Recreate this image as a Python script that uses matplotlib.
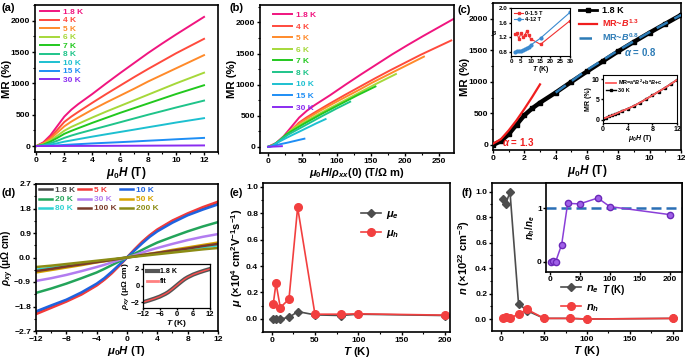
import numpy as np
import matplotlib
matplotlib.use('Agg')
import matplotlib.pyplot as plt
from matplotlib.ticker import AutoMinorLocator, MultipleLocator
from matplotlib.lines import Line2D

plt.rcParams['font.family'] = ['Liberation Sans', 'DejaVu Sans']
plt.rcParams['font.weight'] = 'bold'
plt.rcParams['axes.labelweight'] = 'bold'
plt.rcParams['mathtext.fontset'] = 'custom'
plt.rcParams['mathtext.rm'] = 'Liberation Sans:bold'
plt.rcParams['mathtext.it'] = 'Liberation Sans:italic:bold'
plt.rcParams['mathtext.bf'] = 'Liberation Sans:bold'
plt.rcParams['axes.linewidth'] = 1.2

# ---- (a)/(b) MR vs field ----
temps_a = ['1.8 K', '4 K', '5 K', '6 K', '7 K', '8 K', '10 K', '15 K', '30 K']
colors_a = ['#f0157f', '#ff4a3d', '#ff8a2a', '#a6d83a', '#22c81e', '#1fc48a',
            '#1dc0d0', '#1e8ef5', '#8a2cf0']
field_a = [0, 0.5, 1, 1.5, 2, 2.5, 3, 4, 5, 6, 7, 8, 9, 10, 11, 12]
mr_18K = [0, 60, 170, 320, 470, 580, 670, 830, 1000, 1165, 1325, 1485, 1635, 1780, 1920, 2060]
mr_4K = [0, 50, 140, 260, 385, 470, 545, 690, 830, 965, 1100, 1230, 1355, 1480, 1595, 1710]
mr_5K = [0, 40, 115, 215, 315, 390, 455, 580, 695, 805, 915, 1030, 1135, 1240, 1345, 1450]
mr_6K = [0, 30, 90, 165, 245, 305, 355, 455, 550, 640, 730, 820, 910, 1000, 1085, 1170]
mr_7K = [0, 22, 70, 130, 195, 242, 285, 370, 450, 530, 605, 680, 755, 830, 900, 970]
mr_8K = [0, 14, 45, 85, 130, 167, 200, 260, 320, 380, 440, 500, 557, 615, 670, 725]
mr_10K = [0, 7, 23, 45, 70, 90, 110, 150, 188, 225, 262, 300, 337, 375, 410, 445]
mr_15K = [0, 2, 6, 11, 18, 24, 30, 42, 52, 62, 73, 85, 96, 108, 119, 130]
mr_30K = [0.3, 0.5, 0.8, 1.1, 1.4, 1.75, 2.1, 2.7, 3.4, 4.2, 5.1, 6.0, 6.9, 7.8, 8.8, 9.8]
mr_all = [mr_18K, mr_4K, mr_5K, mr_6K, mr_7K, mr_8K, mr_10K, mr_15K, mr_30K]
# mu0H/rho_xx(0) reached at 12 T for each temperature
kohler_max = [272, 268, 228, 187, 157, 120, 84, 53, 20]

# ---- (c) fits ----
fit13_B = [0, 0.5, 1, 1.5, 2, 2.5, 3]
fit13_mr = [20, 90, 230, 390, 570, 760, 960]
fit08_B = [4, 6, 8, 10, 12]
fit08_mr = [830, 1190, 1500, 1790, 2060]
alpha_T = [1.8, 3, 4, 5, 6, 7, 8, 9, 10, 15, 30]
alpha_low = [1.28, 1.30, 1.15, 1.30, 1.20, 1.25, 1.37, 1.25, 1.15, 1.00, 1.65]
alpha_high = [0.80, 0.81, 0.82, 0.83, 0.85, 0.87, 0.90, 0.93, 0.98, 1.17, 1.88]

# ---- (d) Hall resistivity ----
temps_d = ['1.8 K', '5 K', '10 K', '20 K', '30 K', '50 K', '80 K', '100 K', '200 K']
colors_d = ['#454545', '#f23a3a', '#1f63e0', '#23a45a', '#b27cf0', '#d6a300',
            '#2fd3d3', '#7a3a2a', '#8c8c14']
field_d = [-12, -10, -8, -6, -4, -3, -2, -1, 0, 1, 2, 3, 4, 6, 8, 10, 12]
rxy_18K = [-2.00, -1.80, -1.58, -1.33, -1.00, -0.80, -0.55, -0.28, 0, 0.28, 0.55, 0.80, 1.00, 1.33, 1.58, 1.80, 2.00]
rxy_5K = [-2.08, -1.85, -1.62, -1.36, -1.03, -0.82, -0.58, -0.30, 0, 0.30, 0.58, 0.82, 1.03, 1.36, 1.62, 1.85, 2.05]
rxy_10K = [-1.98, -1.76, -1.55, -1.28, -0.96, -0.76, -0.52, -0.26, 0, 0.26, 0.52, 0.76, 0.96, 1.28, 1.55, 1.76, 1.95]
rxy_20K = [-1.30, -1.14, -0.96, -0.76, -0.55, -0.42, -0.28, -0.14, 0, 0.14, 0.28, 0.42, 0.55, 0.76, 0.96, 1.14, 1.30]
rxy_30K = [-0.86, -0.76, -0.64, -0.50, -0.35, -0.27, -0.18, -0.09, 0, 0.09, 0.18, 0.27, 0.35, 0.50, 0.64, 0.76, 0.86]
rxy_50K = [-0.55, -0.46, -0.37, -0.28, -0.18, -0.14, -0.09, -0.05, 0, 0.05, 0.09, 0.14, 0.18, 0.28, 0.37, 0.46, 0.55]
rxy_80K = [-0.45, -0.38, -0.30, -0.23, -0.15, -0.11, -0.08, -0.04, 0, 0.04, 0.08, 0.11, 0.15, 0.23, 0.30, 0.38, 0.45]
rxy_100K = [-0.50, -0.42, -0.33, -0.25, -0.17, -0.13, -0.09, -0.04, 0, 0.04, 0.09, 0.13, 0.17, 0.25, 0.33, 0.42, 0.50]
rxy_200K = [-0.35, -0.30, -0.24, -0.18, -0.12, -0.09, -0.06, -0.03, 0, 0.03, 0.06, 0.09, 0.12, 0.18, 0.24, 0.30, 0.35]
rxy_all = [rxy_18K, rxy_5K, rxy_10K, rxy_20K, rxy_30K, rxy_50K, rxy_80K, rxy_100K, rxy_200K]

# ---- (e)/(f) two-band fit results ----
T_fit = [1.8, 5, 10, 20, 30, 50, 80, 100, 200]
mu_e = [0.0, 0.0, 0.0, 0.01, 0.055, 0.03, 0.025, 0.035, 0.025]
mu_h = [0.11, 0.27, 0.085, 0.15, 0.845, 0.035, 0.035, 0.038, 0.028]
n_e = [0.94, 0.90, 1.00, 0.12, 0.065, 0.005, 0.005, 0.0, 0.005]
n_h = [0.005, 0.015, 0.005, 0.04, 0.075, 0.005, 0.005, 0.0, 0.005]
ratio = [0.0, 0.01, 0.0, 0.32, 1.09, 1.08, 1.19, 1.03, 0.88]


def fpos(l, t, r, b):
    W, H = 685.0, 359.0
    return [l / W, 1 - b / H, (r - l) / W, (b - t) / H]


def style(ax, size=6.1, minor=True, length=2.5):
    ax.tick_params(direction='out', length=length, width=1, labelsize=size, pad=1)
    ax.tick_params(which='minor', direction='out', length=length * 0.6, width=0.8)
    if minor:
        ax.xaxis.set_minor_locator(AutoMinorLocator(2))
        ax.yaxis.set_minor_locator(AutoMinorLocator(2))


def labels(ax, xl, yl, xy, yx, xs=8.5, ys=8.5):
    # xy: top of the x label, yx: right edge of the y label (axes coords)
    ax.set_xlabel(xl, fontsize=xs)
    ax.set_ylabel(yl, fontsize=ys)
    ax.xaxis.set_label_coords(0.5, xy)
    ax.yaxis.set_label_coords(yx, 0.5)


fig = plt.figure(figsize=(6.85, 3.59), dpi=100)

# (a)
ax = fig.add_axes(fpos(35, 5, 218, 152))
for lab, c, y in zip(temps_a, colors_a, mr_all):
    ax.plot(field_a, y, color=c, lw=1.4, label=lab)
ax.set_xlim(-0.1, 13)
ax.set_ylim(-95, 2250)
ax.xaxis.set_major_locator(MultipleLocator(2))
ax.yaxis.set_major_locator(MultipleLocator(500))
style(ax)
labels(ax, r'$\mu_0H$ (T)', 'MR (%)', -0.09, -0.126, ys=8.2)
ax.legend(loc='upper left', bbox_to_anchor=(0.02, 0.99), frameon=False, fontsize=6,
          labelcolor='linecolor', handlelength=2.3, handletextpad=0.4,
          labelspacing=0.08, borderaxespad=0, borderpad=0.2)

# (b)
ax = fig.add_axes(fpos(260, 5, 454, 153))
for lab, c, y, xm in zip(temps_a, colors_a, mr_all, kohler_max):
    x = np.array(field_a) * xm / 12.0
    ax.plot(x, y, color=c, lw=1.4, label=lab)
ax.set_xlim(-12, 272)
ax.set_ylim(-100, 2280)
ax.xaxis.set_major_locator(MultipleLocator(50))
ax.yaxis.set_major_locator(MultipleLocator(500))
style(ax)
labels(ax, r'$\mu_0H/\rho_{xx}$(0) (T/$\Omega$ m)', 'MR (%)', -0.088, -0.118, xs=8, ys=8.2)
ax.legend(loc='upper left', bbox_to_anchor=(0.06, 0.97), frameon=False, fontsize=6,
          labelcolor='linecolor', handlelength=2.3, handletextpad=0.4,
          labelspacing=0.45, borderaxespad=0, borderpad=0.2)

# (c)
ax = fig.add_axes(fpos(493, 3, 681, 150))
ax.plot(field_a, mr_18K, color='black', lw=3.2, marker='s', ms=3.5, zorder=2)
ax.plot(fit13_B, fit13_mr, color='#f01e1e', lw=1.6, zorder=3)
ax.plot(fit08_B, fit08_mr, color='#2c7bb6', lw=1.8, dashes=(5, 3), zorder=3)
ax.set_xlim(0, 12)
ax.set_ylim(-80, 2250)
ax.xaxis.set_major_locator(MultipleLocator(2))
ax.yaxis.set_major_locator(MultipleLocator(500))
style(ax)
labels(ax, r'$\mu_0H$ (T)', 'MR (%)', -0.09, -0.125, ys=8.2)
ax.text(9.4, 1470, r'$\alpha$ = 0.8', color='#2c7bb6', fontsize=7, ha='center', va='center')
ax.text(1.6, 40, r'$\alpha$ = 1.3', color='#f01e1e', fontsize=7, ha='center', va='center')
hc = [Line2D([], [], color='black', lw=2, marker='s', ms=3.5),
      Line2D([], [], color='#f01e1e', lw=1.6),
      Line2D([], [], color='#2c7bb6', lw=1.8, dashes=(5, 3))]
ax.legend(hc, ['1.8 K', r'MR~$B^{1.3}$', r'MR~$B^{0.8}$'], loc='upper left',
          bbox_to_anchor=(0.45, 0.99), frameon=False, fontsize=6.5,
          labelcolor=['black', '#f01e1e', '#2c7bb6'], handlelength=2.0,
          handletextpad=0.5, labelspacing=0.25, borderaxespad=0, borderpad=0.2)

ai = fig.add_axes(fpos(511, 8, 570, 56))
ai.plot(alpha_T, alpha_low, color='#f03030', lw=0.8, marker='s', ms=2)
ai.plot(alpha_T, alpha_high, color='#3a8ad0', lw=0.8, marker='o', ms=2)
ai.set_xlim(0, 30)
ai.set_ylim(0.68, 2.0)
ai.xaxis.set_major_locator(MultipleLocator(5))
ai.set_yticks([0.8, 1.2, 1.6, 2.0])
style(ai, size=4.5, minor=False, length=1.5)
ai.set_xlabel(r'$T$ (K)', fontsize=5, labelpad=0)
ai.set_ylabel(r'$\alpha$', fontsize=5, labelpad=0)
ai.legend(['0-1.5 T', '4-12 T'], loc='upper left', frameon=False, fontsize=4,
          handlelength=1.6, handletextpad=0.4, labelspacing=0.2, borderaxespad=0.2)
for s in ai.spines.values():
    s.set_linewidth(0.8)

ai = fig.add_axes(fpos(603, 75, 677, 123))
ai.plot(field_a, mr_30K, color='black', lw=1.2, marker='s', ms=1.8)
ai.plot(field_a, mr_30K, color='#ff5a5a', lw=1.3)
ai.set_xlim(0, 12)
ai.set_ylim(-0.8, 11)
ai.set_xticks([0, 4, 8, 12])
ai.set_yticks([0, 5, 10])
style(ai, size=5, minor=False, length=1.5)
ai.set_xlabel(r'$\mu_0H$ (T)', fontsize=5, labelpad=0)
ai.set_ylabel('MR (%)', fontsize=5, labelpad=0)
hi = [Line2D([], [], color='#ff5a5a', lw=1.3), Line2D([], [], color='black', lw=1, marker='s', ms=1.8)]
ai.legend(hi, [r'MR=a*$B^2$+b*$B$+c', '30 K'], loc='upper left', frameon=False, fontsize=4,
          handlelength=1.8, handletextpad=0.4, labelspacing=0.2, borderaxespad=0.1)
for s in ai.spines.values():
    s.set_linewidth(0.8)

# (d)
ax = fig.add_axes(fpos(36, 184, 218, 331))
lines_d = []
for lab, c, y in zip(temps_d, colors_d, rxy_all):
    ln, = ax.plot(field_d, y, color=c, lw=1.8, label=lab)
    lines_d.append(ln)
ax.set_xlim(-12, 12)
ax.set_ylim(-2.7, 2.7)
ax.set_xticks([-12, -8, -4, 0, 4, 8, 12])
ax.set_yticks([-2.7, -1.8, -0.9, 0.0, 0.9, 1.8, 2.7])
style(ax)
labels(ax, r'$\mu_0H$ (T)', r'$\rho_{xy}$ (μΩ cm)', -0.09, -0.11, xs=8.2, ys=7.2)
order = [0, 3, 6, 1, 4, 7, 2, 5, 8]
ax.legend([lines_d[i] for i in order], [temps_d[i] for i in order], ncol=3,
          loc='upper left', bbox_to_anchor=(0.0, 1.0), frameon=False, fontsize=6,
          labelcolor='linecolor', handlelength=1.6, handletextpad=0.4,
          columnspacing=0.3, labelspacing=0.15, borderaxespad=0.1, borderpad=0.2)

ai = fig.add_axes(fpos(143, 264, 210, 308))
ai.plot(field_d, rxy_18K, color='#555555', lw=3)
ai.plot(field_d, rxy_18K, color='#ff4d4d', lw=1)
ai.set_xlim(-12, 12)
ai.set_ylim(-2.7, 2.6)
ai.set_xticks([-12, -6, 0, 6, 12])
ai.set_yticks([-2, 0, 2])
style(ai, size=5.5, minor=False, length=1.5)
ai.set_xlabel(r'$T$ (K)', fontsize=6, labelpad=0)
ai.set_ylabel(r'$\rho_{xy}$ (μΩ cm)', fontsize=6, labelpad=0)
hd = [Line2D([], [], color='#555555', lw=3), Line2D([], [], color='#ff8080', lw=2)]
ai.legend(hd, ['1.8 K', 'fit'], loc='upper left', frameon=False, fontsize=5,
          handlelength=1.5, handletextpad=0.4, labelspacing=0.4, borderaxespad=0.2)
for s in ai.spines.values():
    s.set_linewidth(0.9)

# (e)
ax = fig.add_axes(fpos(263, 183, 450, 332))
ax.plot(T_fit, mu_e, color='#4d4d4d', lw=1.2, marker='D', ms=4.5, label=r'$\mu_e$')
ax.plot(T_fit, mu_h, color='#f23f3f', lw=1.2, marker='o', ms=5.5, label=r'$\mu_h$')
ax.set_xlim(-10, 206)
ax.set_ylim(-0.1, 1.03)
ax.xaxis.set_major_locator(MultipleLocator(50))
ax.yaxis.set_major_locator(MultipleLocator(0.2))
style(ax)
labels(ax, r'$T$ (K)', r'$\mu$ (×10$^{4}$ cm$^{2}$V$^{-1}$s$^{-1}$)', -0.09, -0.095, xs=8.2, ys=8)
ax.legend(loc='center left', bbox_to_anchor=(0.47, 0.72), frameon=False, fontsize=8,
          handlelength=1.8, handletextpad=0.5, labelspacing=0.6)

# (f)
ax = fig.add_axes(fpos(492, 183, 682, 331))
ax.plot(T_fit, n_e, color='#4d4d4d', lw=1.2, marker='D', ms=4.5, label=r'$n_e$')
ax.plot(T_fit, n_h, color='#f23f3f', lw=1.2, marker='o', ms=5.5, label=r'$n_h$')
ax.set_xlim(-11, 211)
ax.set_ylim(-0.094, 1.068)
ax.xaxis.set_major_locator(MultipleLocator(50))
ax.yaxis.set_major_locator(MultipleLocator(0.2))
style(ax)
labels(ax, r'$T$ (K)', r'$n$ (×10$^{22}$ cm$^{-3}$)', -0.09, -0.105, xs=8.2, ys=8)
ax.legend(loc='center left', bbox_to_anchor=(0.31, 0.22), frameon=False, fontsize=8,
          handlelength=1.8, handletextpad=0.5, labelspacing=0.6)

ai = fig.add_axes(fpos(546, 183, 682, 272))
ai.axhline(1, color='#2a6fb5', lw=1.8, dashes=(4, 2))
ai.plot(T_fit, ratio, color='#8a3fd8', lw=1.1, marker='o', ms=4.5,
        markeredgecolor='#6a28b8', markerfacecolor='#a060e8')
ai.set_xlim(-6, 220)
ai.set_ylim(-0.19, 1.47)
ai.xaxis.set_major_locator(MultipleLocator(50))
ai.set_yticks([0, 1])
style(ai, size=6, minor=False, length=2)
ai.set_xlabel(r'$T$ (K)', fontsize=7, labelpad=0)
ai.set_ylabel(r'$n_h/n_e$', fontsize=7, labelpad=0)

# panel labels
for lab, x, y in [('(a)', 1, 3), ('(b)', 230, 3), ('(c)', 457, 5),
                  ('(d)', 1, 188), ('(e)', 229, 188), ('(f)', 461, 188)]:
    fig.text(x / 685, 1 - y / 359, lab, fontsize=8, va='top', ha='left')

fig.savefig('out.png', dpi=100)
